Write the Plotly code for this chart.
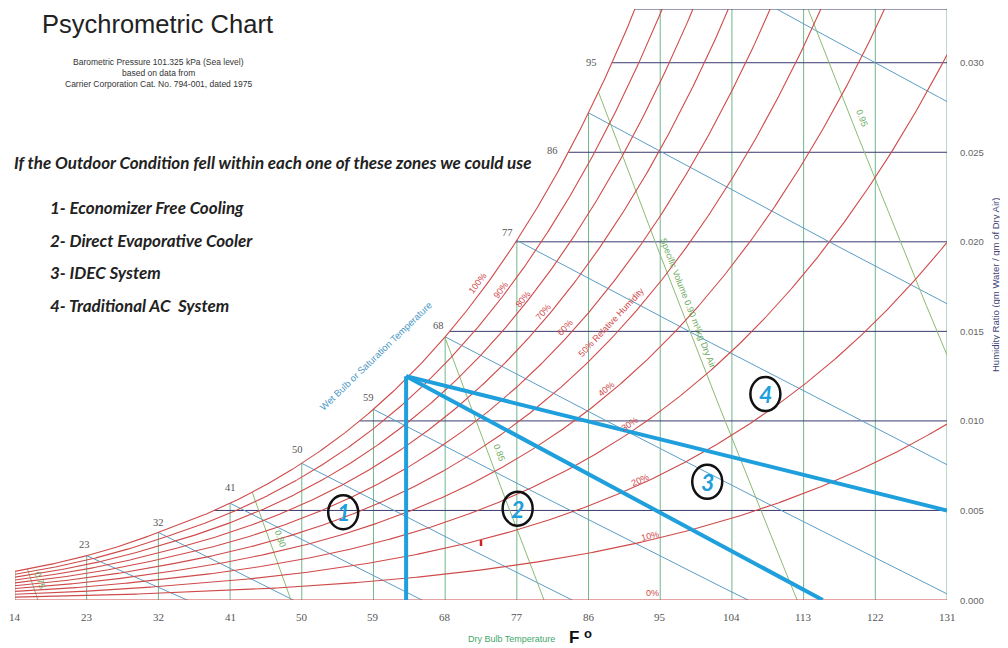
import numpy as np
import plotly.graph_objects as go

# ---------------- data ----------------
P_ATM = 101.325  # kPa, sea level
DRY_BULB_TICKS_F = [14, 23, 32, 41, 50, 59, 68, 77, 86, 95, 104, 113, 122, 131]
HUMIDITY_RATIO_TICKS = [0.000, 0.005, 0.010, 0.015, 0.020, 0.025, 0.030]
W_TOP = 0.033
RH_LEVELS = [0, 10, 20, 30, 40, 50, 60, 70, 80, 90, 100]
WET_BULB_F = [23, 32, 41, 50, 59, 68, 77, 86, 95]
SPECIFIC_VOLUMES = [0.75, 0.80, 0.85, 0.90, 0.95]

# saturation (wet bulb) labels
SAT_LABELS = ["14", "23", "32", "41", "50", "59", "68", "77", "86", "95"]
SAT_LABEL_T = [13.9, 22.7, 32.0, 41.1, 49.5, 58.4, 67.2, 75.8, 81.5, 86.4]
SAT_LABEL_W = [0.0025, 0.0031, 0.0043, 0.0063, 0.0084, 0.0113, 0.0153, 0.0205, 0.0251, 0.0300]

# relative humidity labels
RH_LABELS = ["100%", "90%", "80%", "70%", "60%", "50% Relative Humidity", "40%", "30%", "20%", "10%", "0%"]
RH_LABEL_RH = [100, 90, 80, 70, 60, 50, 40, 30, 20, 10, 0]
RH_LABEL_T = [72.1, 75.0, 77.8, 80.3, 83.0, 88.9, 88.2, 91.2, 92.5, 93.7, 94.0]
RH_LABEL_W = [0.0177, 0.0173, 0.0168, 0.0161, 0.0152, 0.0155, 0.0118, 0.0098, 0.0067, 0.0036, 0.0004]

# specific volume labels
VOL_LABELS = ["0.75", "0.80", "0.85", "Specific Volume 0.90 m³/kg Dry Air", "0.95"]
VOL_LABEL_V = [0.75, 0.80, 0.85, 0.90, 0.95]
VOL_LABEL_T = [17.1, 47.3, 74.8, 98.5, 120.3]
VOL_LABEL_W = [0.0011, 0.0034, 0.0082, 0.0166, 0.0269]

# zone overlay (user drawn)
ZONE_APEX = (63.1, 0.0125)
ZONE_BASE = (63.1, 0.0)
ZONE_RIGHT_END = (131.0, 0.005)
ZONE_BOTTOM_END = (115.4, 0.0)
ZONE_NUMBERS = ["1", "2", "3", "4"]
ZONE_NUM_T = [55.2, 77.1, 100.9, 108.2]
ZONE_NUM_W = [0.0049, 0.0051, 0.0066, 0.0115]

ZONE_ITEMS = ["1- Economizer Free Cooling", "2- Direct Evaporative Cooler",
              "3- IDEC System", "4- Traditional AC  System"]

# ---------------- psychrometrics ----------------
def f2c(tf):
    return (np.asarray(tf, float) - 32.0) / 1.8

def psat_kpa(tc):
    tc = np.asarray(tc, float)
    T = tc + 273.15
    over = np.exp(-5.8002206e3 / T + 1.3914993 - 4.8640239e-2 * T + 4.1764768e-5 * T**2
                  - 1.4452093e-8 * T**3 + 6.5459673 * np.log(T))
    ice = np.exp(-5.6745359e3 / T + 6.3925247 - 9.6778430e-3 * T + 6.2215701e-7 * T**2
                 + 2.0747825e-9 * T**3 - 9.4840240e-13 * T**4 + 4.1635019 * np.log(T))
    return np.where(tc >= 0, over, ice) / 1000.0

def w_rh(tf, phi):
    pv = phi * psat_kpa(f2c(tf))
    return 0.621945 * pv / (P_ATM - pv)

def w_wb(tf, twb_f):
    t = f2c(tf)
    tw = float(f2c(twb_f))
    ws = float(w_rh(twb_f, 1.0))
    if tw >= 0:
        return ((2501 - 2.326 * tw) * ws - 1.006 * (t - tw)) / (2501 + 1.86 * t - 4.186 * tw)
    return ((2830 - 0.24 * tw) * ws - 1.006 * (t - tw)) / (2830 + 1.86 * t - 2.1 * tw)

def w_vol(tf, v):
    tc = f2c(tf)
    return (v * P_ATM / (0.287042 * (tc + 273.15)) - 1.0) / 1.6078

def bisect(fn, a, b, n=80):
    fa = fn(a)
    for _ in range(n):
        m = 0.5 * (a + b)
        fm = fn(m)
        if (fm > 0) == (fa > 0):
            a, fa = m, fm
        else:
            b = m
    return 0.5 * (a + b)

def dew_point_f(w):
    return bisect(lambda t: float(w_rh(t, 1.0)) - w, -40.0, 200.0)

T_MIN, T_MAX = DRY_BULB_TICKS_F[0], DRY_BULB_TICKS_F[-1]
T_GRID = np.linspace(T_MIN, T_MAX, 600)

PX_PER_F = 932.0 / (T_MAX - T_MIN)
PX_PER_W = 591.0 / W_TOP

def screen_angle(dwdt):
    return -np.degrees(np.arctan(dwdt * PX_PER_W / PX_PER_F))

def join(segs):
    xs, ys = [], []
    for x, y in segs:
        xs += list(x) + [None]
        ys += list(y) + [None]
    return xs, ys

# ---------------- colours ----------------
RED = "#cf4a4a"
WB_BLUE = "#5b9dc6"
DB_GREEN = "#6fb68c"
VOL_GREEN = "#8bbb72"
NAVY = "#3a3a70"
ZONE_BLUE = "#1f9fdb"

fig = go.Figure()

# dry bulb verticals
segs = []
for t in DRY_BULB_TICKS_F:
    segs.append(([t, t], [0.0, min(float(w_rh(t, 1.0)), W_TOP)]))
x, y = join(segs)
fig.add_trace(go.Scatter(x=x, y=y, mode="lines", line=dict(color=DB_GREEN, width=1), hoverinfo="skip"))

# humidity ratio horizontals (incl. top edge)
segs = []
for w in HUMIDITY_RATIO_TICKS[1:] + [W_TOP]:
    segs.append(([dew_point_f(w), T_MAX], [w, w]))
x, y = join(segs)
fig.add_trace(go.Scatter(x=x, y=y, mode="lines", line=dict(color=NAVY, width=1), hoverinfo="skip"))

# wet bulb lines
segs = []
for twb in WET_BULB_F:
    tt = np.linspace(twb, T_MAX, 200)
    segs.append((tt, w_wb(tt, twb)))
x, y = join(segs)
fig.add_trace(go.Scatter(x=x, y=y, mode="lines", line=dict(color=WB_BLUE, width=1), hoverinfo="skip"))

# specific volume lines
segs = []
for v in SPECIFIC_VOLUMES:
    t0 = (v * P_ATM / 0.287042 - 273.15) * 1.8 + 32
    ts = bisect(lambda t: float(w_vol(t, v)) - float(w_rh(t, 1.0)), -20.0, t0)
    tt = np.linspace(ts, t0, 60)
    segs.append((tt, w_vol(tt, v)))
x, y = join(segs)
fig.add_trace(go.Scatter(x=x, y=y, mode="lines", line=dict(color=VOL_GREEN, width=1), hoverinfo="skip"))

# relative humidity curves
segs = []
for rh in RH_LEVELS:
    segs.append((T_GRID, w_rh(T_GRID, rh / 100.0)))
x, y = join(segs)
fig.add_trace(go.Scatter(x=x, y=y, mode="lines", line=dict(color=RED, width=1.1), hoverinfo="skip"))

# zone overlay lines
for a, b in [(ZONE_BASE, ZONE_APEX), (ZONE_APEX, ZONE_RIGHT_END), (ZONE_APEX, ZONE_BOTTOM_END)]:
    fig.add_trace(go.Scatter(x=[a[0], b[0]], y=[a[1], b[1]], mode="lines",
                             line=dict(color=ZONE_BLUE, width=4), hoverinfo="skip"))

ann = []
SERIF = "Liberation Serif"
SANS = "Liberation Sans"

# dry bulb tick labels
for t in DRY_BULB_TICKS_F:
    ann.append(dict(x=t, y=0, xref="x", yref="y", text=str(t), showarrow=False, yshift=-17,
                    font=dict(family=SERIF, size=11, color="#555555")))
# humidity ratio tick labels
for w in HUMIDITY_RATIO_TICKS:
    ann.append(dict(x=T_MAX, y=w, xref="x", yref="y", text=f"{w:.3f}", showarrow=False,
                    xanchor="left", xshift=11, font=dict(family=SANS, size=9.5, color="#666666")))
# saturation labels
for s, t, w in zip(SAT_LABELS, SAT_LABEL_T, SAT_LABEL_W):
    ann.append(dict(x=t, y=w, xref="x", yref="y", text=s, showarrow=False,
                    font=dict(family=SERIF, size=10.5, color="#555555")))
# RH labels
for s, rh, t, w in zip(RH_LABELS, RH_LABEL_RH, RH_LABEL_T, RH_LABEL_W):
    d = float(w_rh(t + 0.5, rh / 100) - w_rh(t - 0.5, rh / 100))
    ann.append(dict(x=t, y=w, xref="x", yref="y", text=s, showarrow=False,
                    textangle=screen_angle(d), font=dict(family=SANS, size=9, color=RED)))
# volume labels
for s, v, t, w in zip(VOL_LABELS, VOL_LABEL_V, VOL_LABEL_T, VOL_LABEL_W):
    d = float(w_vol(t + 0.5, v) - w_vol(t - 0.5, v))
    ann.append(dict(x=t, y=w, xref="x", yref="y", text=s, showarrow=False,
                    textangle=screen_angle(d), font=dict(family=SANS, size=9, color="#6aaa5a")))

# screen-pixel helper (plot area spans x 15..947, y 9..600 in the page)
def px(xp, yp, anchor="center"):
    return dict(x=(xp - 15) / 932.0, y=(600 - yp) / 591.0, xref="paper", yref="paper",
                xanchor=anchor, yanchor="middle")

ann.append(dict(**px(375, 356), text="Wet Bulb or Saturation Temperature", showarrow=False,
                textangle=-44, font=dict(family=SANS, size=9.5, color="#4a97c6")))
# axis titles
ann.append(dict(**px(995, 285), text="Humidity Ratio (gm Water / gm of Dry Air)", showarrow=False,
                textangle=-90, font=dict(family=SANS, size=9.5, color="#44447a")))
ann.append(dict(**px(511, 639), text="Dry Bulb Temperature", showarrow=False,
                font=dict(family=SANS, size=9, color="#3fa86a")))
ann.append(dict(**px(574, 637), text="<b>F</b>", showarrow=False,
                font=dict(family=SANS, size=17, color="#111111")))
ann.append(dict(**px(588, 633), text="<b>o</b>", showarrow=False,
                font=dict(family=SANS, size=13, color="#111111")))

# header
ann.append(dict(**px(40, 24, "left"), text="Psychrometric Chart", showarrow=False,
                font=dict(family=SANS, size=25.5, color="#222222")))
for i, line in enumerate(["Barometric Pressure 101.325 kPa (Sea level)", "based on data from",
                          "Carrier Corporation Cat. No. 794-001, dated 1975"]):
    ann.append(dict(**px(158, 62 + 11 * i), text=line, showarrow=False,
                    font=dict(family=SANS, size=8.5, color="#333333")))
ann.append(dict(**px(12, 163, "left"),
                text="<b><i>If the Outdoor Condition fell within each one of these zones we could use</i></b>",
                showarrow=False, font=dict(family="Lato", size=17, color="#222222")))
for i, item in enumerate(ZONE_ITEMS):
    ann.append(dict(**px(48, 208 + 32.4 * i, "left"), text=f"<b><i>{item}</i></b>", showarrow=False,
                    font=dict(family="Lato", size=17, color="#222222")))

# zone numbers
shapes = []
for s, t, w in zip(ZONE_NUMBERS, ZONE_NUM_T, ZONE_NUM_W):
    shapes.append(dict(type="circle", xref="x", yref="y", xsizemode="pixel", ysizemode="pixel",
                       xanchor=t, yanchor=w, x0=-15, x1=15, y0=-17, y1=17,
                       line=dict(color="#111111", width=2.5)))
    ann.append(dict(x=t, y=w, xref="x", yref="y", text=f"<b><i>{s}</i></b>", showarrow=False,
                    font=dict(family="Lato", size=23, color=ZONE_BLUE)))
# small red tick mark
shapes.append(dict(type="line", xref="x", yref="y", ysizemode="pixel", yanchor=0.00318,
                   x0=72.5, x1=72.5, y0=-3, y1=3, line=dict(color="#d02020", width=2.5)))

# the page body adds an 8px offset, so the figure is 1000x640 with shifted margins
fig.update_layout(
    width=1000, height=640,
    margin=dict(l=7, r=61, t=1, b=48),
    paper_bgcolor="white", plot_bgcolor="white",
    showlegend=False,
    xaxis=dict(range=[T_MIN, T_MAX], showgrid=False, zeroline=False, showticklabels=False,
               ticks="", fixedrange=True),
    yaxis=dict(range=[0, W_TOP], showgrid=False, zeroline=False, showticklabels=False,
               ticks="", fixedrange=True),
    annotations=ann, shapes=shapes,
)

fig.write_html("out.html")
